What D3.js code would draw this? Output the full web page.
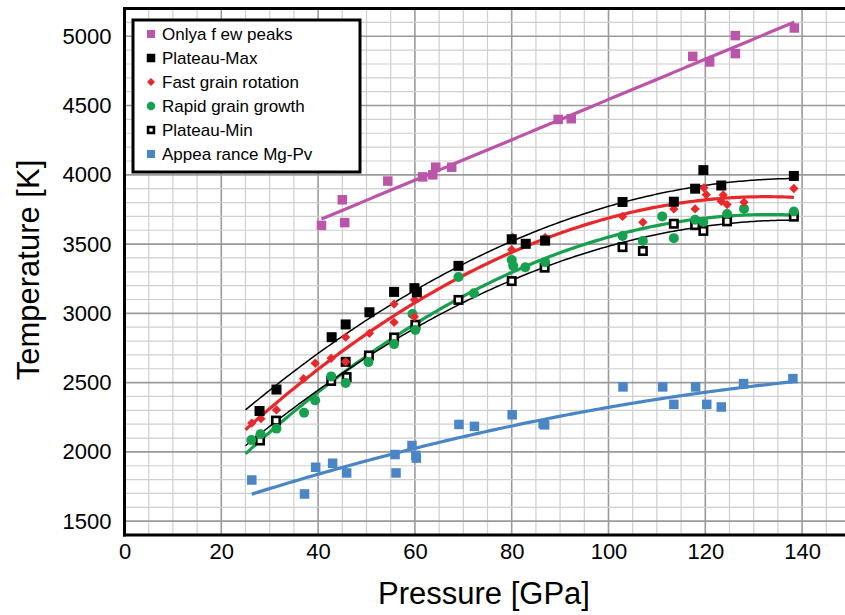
<!DOCTYPE html>
<html><head><meta charset="utf-8">
<script src="https://cdn.jsdelivr.net/npm/d3@7"></script>
<style>body{margin:0;background:#fff} text{font-family:"Liberation Sans",Arial,sans-serif}</style>
</head><body><svg id="c" width="845" height="615"></svg>
<script>
// ---------------- data (pressure GPa, temperature K) ----------------
const fewPeaksP = [40.7, 45.0, 45.5, 54.4, 61.6, 63.7, 64.3, 67.6, 89.6, 92.3, 117.4, 120.9, 126.2, 126.2, 138.4];
const fewPeaksT = [3635, 3820, 3655, 3955, 3985, 4000, 4055, 4055, 4400, 4405, 4855, 4815, 5005, 4875, 5060];

const plateauMaxP = [27.9, 31.4, 42.8, 45.7, 50.6, 55.7, 59.9, 60.4, 69.0, 80.0, 82.9, 86.9, 102.9, 113.5, 117.9, 119.6, 123.3, 138.3];
const plateauMaxT = [2295, 2450, 2828, 2920, 3008, 3155, 3182, 3152, 3343, 3535, 3502, 3525, 3804, 3806, 3900, 4034, 3923, 3992];

const fastRotP = [26.3, 28.2, 31.4, 37.0, 39.4, 42.7, 45.7, 45.7, 50.6, 55.7, 55.7, 59.9, 59.9, 80.0, 80.2, 86.9, 102.9, 107.1, 113.5, 117.9, 119.7, 120.2, 123.7, 123.3, 124.5, 128.0, 138.3];
const fastRotT = [2208, 2240, 2303, 2528, 2640, 2676, 2828, 2650, 2856, 3067, 2935, 3098, 2975, 3460, 3548, 3548, 3700, 3657, 3754, 3754, 3906, 3857, 3855, 3809, 3785, 3802, 3901];

const rapidGrowthP = [26.2, 28.1, 31.4, 37.1, 39.4, 42.7, 45.7, 50.4, 55.7, 59.5, 60.1, 69.0, 72.2, 80.0, 80.3, 82.8, 86.9, 102.9, 107.1, 111.1, 113.5, 117.9, 119.6, 124.5, 128.0, 138.3];
const rapidGrowthT = [2085, 2128, 2168, 2282, 2372, 2545, 2498, 2648, 2778, 2995, 2880, 3262, 3145, 3386, 3343, 3333, 3370, 3558, 3523, 3700, 3543, 3676, 3660, 3717, 3754, 3735];

const plateauMinP = [28.0, 31.3, 42.7, 45.9, 45.7, 50.5, 55.7, 60.1, 69.0, 80.0, 86.8, 102.9, 107.1, 113.5, 117.9, 119.6, 124.5, 138.3];
const plateauMinT = [2082, 2226, 2512, 2540, 2650, 2696, 2826, 2918, 3097, 3233, 3330, 3478, 3450, 3647, 3637, 3595, 3664, 3698];

const mgPvP = [26.3, 37.2, 39.5, 43.0, 45.9, 55.9, 56.1, 59.4, 60.2, 60.3, 69.1, 72.3, 80.1, 86.5, 86.8, 103.0, 111.2, 113.5, 118.0, 120.3, 123.3, 127.9, 138.1];
const mgPvT = [1797, 1696, 1889, 1918, 1848, 1981, 1848, 2046, 1975, 1955, 2198, 2184, 2268, 2203, 2195, 2469, 2469, 2343, 2469, 2343, 2324, 2493, 2529];

const legendLabels = ["Onlya f ew peaks", "Plateau-Max", "Fast grain rotation", "Rapid grain growth", "Plateau-Min", "Appea rance Mg-Pv"];
const fitDegree = [1, 2, 2, 2, 2, 2];
const trendStart = [40.7, 25, 25, 25, 25, 26.3];
const trendEnd = [138.4, 138.3, 138.3, 138.3, 138.3, 138.1];

const xTicks = [0, 20, 40, 60, 80, 100, 120, 140];
const yTicks = [1500, 2000, 2500, 3000, 3500, 4000, 4500, 5000];
const xTitle = "Pressure [GPa]";
const yTitle = "Temperature [K]";

// ---------------- styles ----------------
const styles = [
  {color: "#bb55aa", shape: "square", size: 9.5, lineW: 3.2, lineColor: "#bb55aa"},
  {color: "#000", shape: "square", size: 10, lineW: 1.5, lineColor: "#000"},
  {color: "#e8282b", shape: "diamond", size: 8.5, lineW: 3.2, lineColor: "#e8282b"},
  {color: "#17a04e", shape: "circle", size: 10, lineW: 3.2, lineColor: "#17a04e"},
  {color: "#000", shape: "open", size: 10, lineW: 1.5, lineColor: "#000"},
  {color: "#4a86c6", shape: "square", size: 9.5, lineW: 3.2, lineColor: "#4a86c6"}
];
const seriesP = [fewPeaksP, plateauMaxP, fastRotP, rapidGrowthP, plateauMinP, mgPvP];
const seriesT = [fewPeaksT, plateauMaxT, fastRotT, rapidGrowthT, plateauMinT, mgPvT];
const series = legendLabels.map((name, i) => ({
  name, ...styles[i], deg: fitDegree[i], from: trendStart[i], to: trendEnd[i],
  pts: seriesP[i].map((p, j) => ({p, t: seriesT[i][j]}))
}));

// least squares polynomial fit
function polyfit(xs, ys, deg) {
  const n = deg + 1, mx = d3.mean(xs);
  const A = Array.from({length: n}, () => new Array(n + 1).fill(0));
  xs.forEach((x0, k) => {
    const x = x0 - mx;
    for (let r = 0; r < n; r++) {
      for (let c = 0; c < n; c++) A[r][c] += Math.pow(x, r + c);
      A[r][n] += ys[k] * Math.pow(x, r);
    }
  });
  for (let i = 0; i < n; i++) {
    let piv = i;
    for (let r = i + 1; r < n; r++) if (Math.abs(A[r][i]) > Math.abs(A[piv][i])) piv = r;
    [A[i], A[piv]] = [A[piv], A[i]];
    for (let r = 0; r < n; r++) if (r !== i) {
      const f = A[r][i] / A[i][i];
      for (let c = i; c <= n; c++) A[r][c] -= f * A[i][c];
    }
  }
  const coef = A.map((row, i) => row[n] / row[i]);
  return x => coef.reduce((s, c, i) => s + c * Math.pow(x - mx, i), 0);
}

// ---------------- chart ----------------
const svg = d3.select("#c");
const x = d3.scaleLinear().domain([0, 150]).range([124.5, 850.5]);
const y = d3.scaleLinear().domain([1400, 5200]).range([535, 8.6]);

const grid = svg.append("g");
d3.range(0, 151, 5).forEach(v => {
  grid.append("line").attr("x1", x(v)).attr("x2", x(v)).attr("y1", y(1400)).attr("y2", y(5200))
    .attr("stroke", v % 20 === 0 ? "#9a9a9a" : "#cfcfcf").attr("stroke-width", v % 20 === 0 ? 1.6 : 1.2);
});
d3.range(1400, 5201, 100).forEach(v => {
  grid.append("line").attr("x1", x(0)).attr("x2", x(150)).attr("y1", y(v)).attr("y2", y(v))
    .attr("stroke", v % 500 === 0 ? "#9a9a9a" : "#cfcfcf").attr("stroke-width", v % 500 === 0 ? 1.6 : 1.2);
});

// trendlines
const line = d3.line().x(d => x(d[0])).y(d => y(d[1]));
series.forEach(s => {
  const f = polyfit(s.pts.map(d => d.p), s.pts.map(d => d.t), s.deg);
  const xs = d3.range(s.from, s.to, 0.5).concat([s.to]);
  svg.append("path").attr("d", line(xs.map(v => [v, f(v)])))
    .attr("fill", "none").attr("stroke", s.lineColor).attr("stroke-width", s.lineW);
});

// markers
function marker(g, s, cx, cy, scale) {
  const z = s.size * (scale || 1);
  if (s.shape === "square") {
    g.append("rect").attr("x", cx - z / 2).attr("y", cy - z / 2).attr("width", z).attr("height", z).attr("fill", s.color);
  } else if (s.shape === "open") {
    g.append("rect").attr("x", cx - z / 2 + 1.3).attr("y", cy - z / 2 + 1.3).attr("width", z - 2.6).attr("height", z - 2.6)
      .attr("fill", "#fff").attr("stroke", s.color).attr("stroke-width", 2.6);
  } else if (s.shape === "circle") {
    g.append("circle").attr("cx", cx).attr("cy", cy).attr("r", z / 2).attr("fill", s.color);
  } else if (s.shape === "diamond") {
    const h = z / 2 * 1.1;
    g.append("path").attr("d", `M${cx},${cy - h}L${cx + h},${cy}L${cx},${cy + h}L${cx - h},${cy}Z`).attr("fill", s.color);
  }
}
const drawOrder = [5, 0, 4, 3, 2, 1];
drawOrder.forEach(i => {
  const s = series[i];
  const g = svg.append("g");
  s.pts.forEach(d => marker(g, s, x(d.p), y(d.t)));
});

// frame
svg.append("line").attr("x1", x(0)).attr("x2", 845).attr("y1", y(5200)).attr("y2", y(5200)).attr("stroke", "#000").attr("stroke-width", 3);
svg.append("line").attr("x1", x(0)).attr("x2", x(0)).attr("y1", y(5200) - 1.5).attr("y2", y(1400) + 1.5).attr("stroke", "#000").attr("stroke-width", 3);
svg.append("line").attr("x1", x(0) - 1.5).attr("x2", 845).attr("y1", y(1400)).attr("y2", y(1400)).attr("stroke", "#000").attr("stroke-width", 3);

// axes
const xAxis = svg.append("g").attr("transform", `translate(0,${y(1400)})`)
  .call(d3.axisBottom(x).tickValues(xTicks).tickSize(0).tickPadding(8).tickFormat(d3.format("d")));
xAxis.select(".domain").remove();
xAxis.selectAll("text").attr("font-size", 22).attr("fill", "#000").style("font-family", "Liberation Sans, Arial, sans-serif");

const yAxis = svg.append("g").attr("transform", `translate(${x(0)},0)`)
  .call(d3.axisLeft(y).tickValues(yTicks).tickSize(0).tickPadding(13).tickFormat(d3.format("d")));
yAxis.select(".domain").remove();
yAxis.selectAll("text").attr("font-size", 22).attr("fill", "#000").style("font-family", "Liberation Sans, Arial, sans-serif");

svg.append("text").attr("x", 484).attr("y", 604).attr("text-anchor", "middle").attr("font-size", 31).text(xTitle);
svg.append("text").attr("transform", `translate(39,${270}) rotate(-90)`).attr("text-anchor", "middle").attr("font-size", 31).text(yTitle);

// legend
const lg = svg.append("g");
lg.append("rect").attr("x", 133).attr("y", 20).attr("width", 227).attr("height", 152)
  .attr("fill", "#fff").attr("stroke", "#000").attr("stroke-width", 3);
series.forEach((s, i) => {
  const cy = 34 + i * 24;
  marker(lg, s, 151, cy, 0.85);
  lg.append("text").attr("x", 162).attr("y", cy).attr("dy", "0.35em").attr("font-size", 17).text(s.name);
});
</script></body></html>
